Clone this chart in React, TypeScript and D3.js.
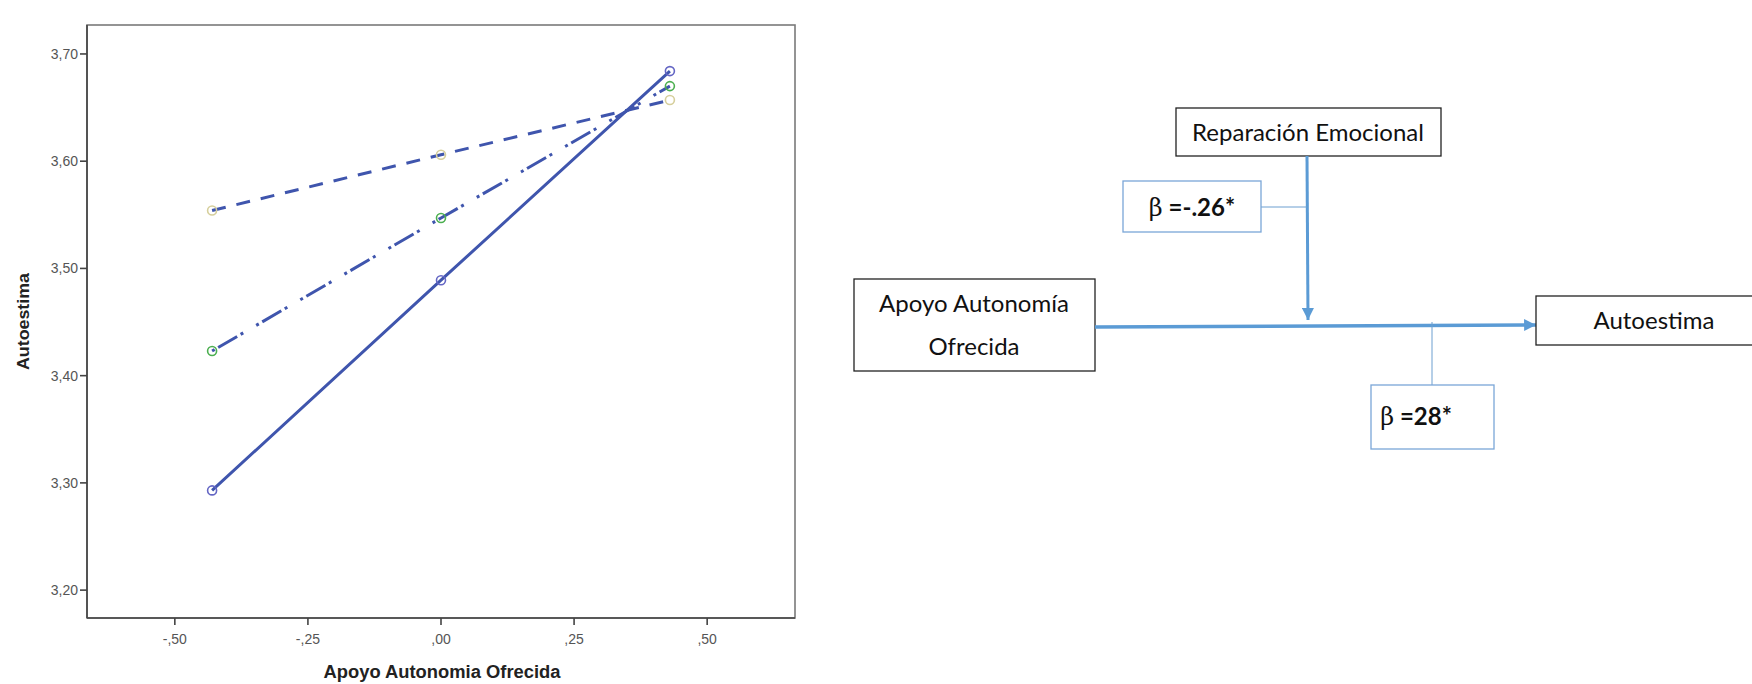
import React from "react";
import * as d3 from "d3";

// ---------- data ----------
const xLevels = [-0.43, 0, 0.43];
const seriesSolid = [3.293, 3.489, 3.684];
const seriesDashDot = [3.423, 3.547, 3.67];
const seriesDash = [3.554, 3.606, 3.657];

const xTickValues = [-0.5, -0.25, 0, 0.25, 0.5];
const xTickLabels = ["-,50", "-,25", ",00", ",25", ",50"];
const yTickValues = [3.2, 3.3, 3.4, 3.5, 3.6, 3.7];
const yTickLabels = ["3,20", "3,30", "3,40", "3,50", "3,60", "3,70"];

const xTitle = "Apoyo Autonomia Ofrecida";
const yTitle = "Autoestima";

const moderatorLabel = "Reparación Emocional";
const predictorLines = ["Apoyo Autonomía", "Ofrecida"];
const outcomeLabel = "Autoestima";
const betaInteraction = "=-.26*";
const betaMain = "=28*";

// ---------- layout ----------
const W = 1752;
const H = 684;
const plot = { left: 87, right: 795, top: 25, bottom: 618 };

const x = d3.scaleLinear().domain([-0.665, 0.665]).range([plot.left, plot.right]);
const y = d3.scaleLinear().domain([3.174, 3.727]).range([plot.bottom, plot.top]);

const lineGen = d3
  .line<[number, number]>()
  .x((d) => x(d[0]))
  .y((d) => y(d[1]));

const series = [
  { values: seriesDash, dash: "14 11", marker: "#d6cf9c" },
  { values: seriesDashDot, dash: "3 4 22 4 3 15", marker: "#4caf50" },
  { values: seriesSolid, dash: null, marker: "#6466c4" },
];

const LINE_COLOR = "#3f55ad";
const ARROW = "#5b9bd5";
const DIAG_FONT = "Lato, 'Open Sans', sans-serif";
const DIAG_SIZE = 24;

export default function App() {
  return (
    <svg
      width={W}
      height={H}
      style={{ position: "absolute", left: 0, top: 0, display: "block", background: "#fff" }}
      fontFamily="'Liberation Sans', Arial, sans-serif"
    >
      <rect x={0} y={0} width={W} height={H} fill="#fff" />
      {/* ---------- chart ---------- */}
      <rect
        x={plot.left}
        y={plot.top}
        width={plot.right - plot.left}
        height={plot.bottom - plot.top}
        fill="none"
        stroke="#7a7a7a"
        strokeWidth={1.6}
      />
      <line x1={plot.left} x2={plot.left} y1={plot.top} y2={plot.bottom} stroke="#444" strokeWidth={1.6} />
      <line x1={plot.left} x2={plot.right} y1={plot.bottom} y2={plot.bottom} stroke="#444" strokeWidth={1.6} />
      {yTickValues.map((v, i) => (
        <g key={"yt" + i}>
          <line x1={plot.left - 7} x2={plot.left} y1={y(v)} y2={y(v)} stroke="#444" strokeWidth={1.6} />
          <text x={plot.left - 9} y={y(v)} dy="0.35em" textAnchor="end" fontSize={14} fill="#555">
            {yTickLabels[i]}
          </text>
        </g>
      ))}
      {xTickValues.map((v, i) => (
        <g key={"xt" + i}>
          <line x1={x(v)} x2={x(v)} y1={plot.bottom} y2={plot.bottom + 7} stroke="#444" strokeWidth={1.6} />
          <text x={x(v)} y={plot.bottom + 26} textAnchor="middle" fontSize={14} fill="#555">
            {xTickLabels[i]}
          </text>
        </g>
      ))}
      <text
        x={442}
        y={678}
        textAnchor="middle"
        fontSize={18}
        fontWeight="bold"
        fill="#222"
        textLength={237}
        lengthAdjust="spacingAndGlyphs"
      >
        {xTitle}
      </text>
      <text
        transform={`translate(29,${(plot.top + plot.bottom) / 2}) rotate(-90)`}
        textAnchor="middle"
        fontSize={16}
        fontWeight="bold"
        fill="#222"
        textLength={97}
        lengthAdjust="spacingAndGlyphs"
      >
        {yTitle}
      </text>
      {series.map((s, i) => (
        <path
          key={"ln" + i}
          d={lineGen(xLevels.map((xv, j) => [xv, s.values[j]] as [number, number])) || ""}
          fill="none"
          stroke={LINE_COLOR}
          strokeWidth={3}
          strokeDasharray={s.dash || undefined}
        />
      ))}
      {series.map((s, i) =>
        xLevels.map((xv, j) => (
          <circle
            key={"m" + i + "-" + j}
            cx={x(xv)}
            cy={y(s.values[j])}
            r={4.5}
            fill="none"
            stroke={s.marker}
            strokeWidth={1.6}
          />
        ))
      )}

      {/* ---------- path diagram ---------- */}
      <defs>
        <marker id="ah" viewBox="0 0 10 10" refX={10} refY={5} markerWidth={4} markerHeight={3.4} orient="auto" markerUnits="strokeWidth">
          <path d="M0,0 L10,5 L0,10 z" fill={ARROW} />
        </marker>
        <marker id="ah2" viewBox="0 0 10 10" refX={10} refY={5} markerWidth={4} markerHeight={4} orient="auto" markerUnits="strokeWidth">
          <path d="M0,0 L10,5 L0,10 z" fill={ARROW} />
        </marker>
      </defs>
      <g fontFamily={DIAG_FONT}>
        {/* moderator */}
        <rect x={1176} y={108} width={265} height={48} fill="#fff" stroke="#222" strokeWidth={1.3} />
        <text x={1308} y={141} textAnchor="middle" fontSize={DIAG_SIZE} fill="#111">
          {moderatorLabel}
        </text>
        <line x1={1307} y1={156} x2={1308} y2={320} stroke={ARROW} strokeWidth={3} markerEnd="url(#ah2)" />
        {/* interaction beta */}
        <line x1={1261} y1={207} x2={1307} y2={207} stroke="#6c9fd0" strokeWidth={1} />
        <rect x={1123} y={181} width={138} height={51} fill="#fff" stroke="#7aa6d8" strokeWidth={1.3} />
        <text x={1192} y={216} textAnchor="middle" fontSize={DIAG_SIZE} fill="#111">
          <tspan fontFamily="'DejaVu Serif', serif" fontSize={24}>β</tspan>
          <tspan fontWeight="bold"> {betaInteraction}</tspan>
        </text>
        {/* predictor */}
        <rect x={854} y={279} width={241} height={92} fill="#fff" stroke="#222" strokeWidth={1.3} />
        <text x={974} y={312} textAnchor="middle" fontSize={DIAG_SIZE} fill="#111">
          {predictorLines[0]}
        </text>
        <text x={974} y={355} textAnchor="middle" fontSize={DIAG_SIZE} fill="#111">
          {predictorLines[1]}
        </text>
        {/* main arrow */}
        <line x1={1095} y1={327} x2={1536} y2={325} stroke={ARROW} strokeWidth={3.5} markerEnd="url(#ah)" />
        {/* outcome */}
        <rect x={1536} y={296} width={220} height={49} fill="#fff" stroke="#222" strokeWidth={1.3} />
        <text x={1654} y={329} textAnchor="middle" fontSize={DIAG_SIZE} fill="#111">
          {outcomeLabel}
        </text>
        {/* main beta */}
        <line x1={1432} y1={322} x2={1432} y2={385} stroke="#6c9fd0" strokeWidth={1} />
        <rect x={1371} y={385} width={123} height={64} fill="#fff" stroke="#7aa6d8" strokeWidth={1.3} />
        <text x={1416} y={425} textAnchor="middle" fontSize={DIAG_SIZE} fill="#111">
          <tspan fontFamily="'DejaVu Serif', serif" fontSize={24}>β</tspan>
          <tspan fontWeight="bold"> {betaMain}</tspan>
        </text>
      </g>
    </svg>
  );
}
